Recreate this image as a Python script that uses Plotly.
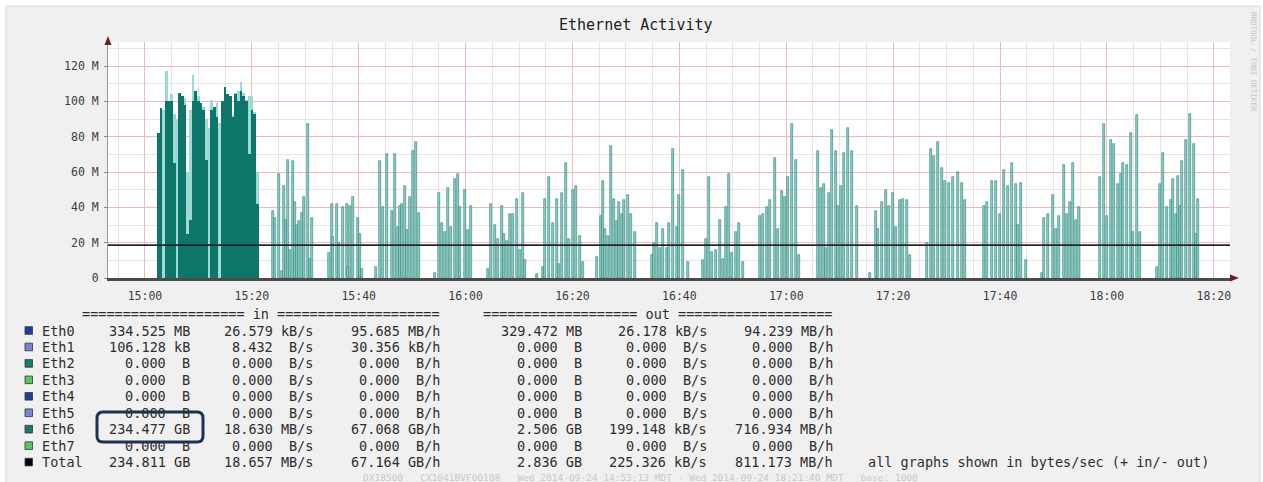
import datetime as dt
import plotly.graph_objects as go

# ------------------------------------------------------------------ data
# Eth6 "in" rate, MB/s.  Dense burst 15:02 - 15:21 (30 s samples), two layers
dense_minutes = [2.5, 3.0, 3.5, 4.0, 4.5, 5.0, 5.5, 6.0, 6.5, 7.0, 7.5, 8.0, 8.5,
                 9.0, 9.5, 10.0, 10.5, 11.0, 11.5, 12.0, 12.5, 13.0, 13.5, 14.0,
                 14.5, 15.0, 15.5, 16.0, 16.5, 17.0, 17.5, 18.0, 18.5, 19.0, 19.5,
                 20.0, 20.5, 21.0]
dense_dark = [82, 96, 0, 100, 100, 100, 65, 0, 105, 103, 98, 25, 33, 100, 106, 100,
              99, 95, 67, 0, 95, 97, 91, 0, 100, 108, 104, 103, 91, 104, 100, 106,
              103, 100, 70, 95, 93, 42]
dense_light = [82, 96, 95, 117, 100, 104, 93, 90, 105, 103, 102, 60, 95, 115, 106,
               103, 99, 97, 90, 85, 101, 97, 99, 88, 100, 108, 104, 103, 92, 105,
               106, 111, 105, 101, 103, 103, 94, 60]

# sparse spikes after 15:23 (minutes after 15:00, MB/s)
spike_minutes = [
    23.95, 24.33, 25.07, 25.64, 26.01, 26.38, 26.76, 27.13, 27.69, 28.07, 28.44, 28.82, 29.38, 29.75, 30.50, 30.88, 31.25,
    34.43, 34.99, 35.18, 35.93, 36.30, 37.05, 37.80, 37.99, 38.36, 38.92, 39.86, 40.23, 40.61,
    43.23, 44.00, 44.57, 45.28, 46.22, 46.78, 47.34, 47.72, 48.09, 48.65, 49.03, 49.59, 50.15, 50.71, 51.27,
    54.27, 55.01, 55.58, 56.14, 56.70, 57.26, 58.01, 58.57, 58.95, 59.88, 60.44, 61.00,
    64.18, 64.75, 65.49, 66.06, 66.80, 67.18, 67.74, 68.30, 68.86, 69.61, 70.17, 70.73, 71.11,
    73.35, 74.48, 74.85, 75.60, 76.35, 77.10, 77.47, 78.03, 78.78, 79.34, 80.09, 80.65, 81.40, 81.96,
    84.58, 85.33, 85.70, 86.08, 86.64, 87.20, 87.76, 88.32, 88.70, 89.26, 89.63, 90.38, 90.94, 91.69,
    94.87, 95.25, 95.81, 96.37, 96.93, 97.68, 98.05, 98.80, 99.55, 99.93, 100.67, 101.61,
    104.42, 104.98, 105.54, 106.10, 106.85, 107.60, 108.16, 108.72, 109.28, 109.84, 110.59, 111.15, 111.90,
    115.08, 115.64, 116.39, 116.95, 117.89, 118.45, 119.20, 119.76, 120.32, 121.07, 121.82, 122.38,
    125.94, 126.50, 127.06, 127.43, 127.99, 128.55, 129.30, 129.68, 130.24, 130.80, 131.55, 132.30, 133.23,
    135.67, 136.79, 137.16, 137.91, 138.66, 139.22, 139.97, 140.53, 141.28, 141.84, 142.59, 143.15,
    146.33, 147.08, 147.64, 148.39, 149.14, 149.70, 150.45, 151.20, 152.13, 152.88, 153.44,
    157.00, 157.56, 158.50, 159.24, 159.99, 160.74, 161.49, 162.24, 162.99, 163.36, 163.92, 164.86,
    167.85, 168.23, 168.97, 169.91, 170.47, 171.03, 171.97, 172.53, 173.09, 173.65, 174.21, 174.78,
    178.71, 179.45, 180.01, 180.76, 181.32, 182.07, 182.63, 183.01, 183.76, 184.51, 184.88, 185.63, 186.19,
    189.37, 189.93, 190.50, 191.24, 191.99, 192.37, 192.93, 193.30, 193.67, 194.05, 194.80, 195.55, 196.29, 196.67, 197.04,
]
spike_values = [
    38, 34, 59, 4, 52, 33, 67, 16, 66, 43, 30, 32, 37, 46, 87, 11, 34,
    14, 42, 23, 42, 20, 40, 42, 6, 41, 46, 34, 25, 5,
    6, 66, 40, 70, 38, 70, 29, 41, 42, 52, 27, 46, 72, 77, 37,
    3, 48, 31, 26, 51, 29, 56, 59, 40, 50, 27, 41,
    5, 42, 30, 22, 41, 25, 21, 36, 36, 45, 16, 48, 10,
    2, 6, 45, 57, 31, 45, 8, 48, 65, 22, 50, 52, 24, 9,
    12, 35, 55, 28, 24, 75, 45, 32, 43, 36, 44, 47, 36, 26,
    13, 20, 31, 17, 28, 17, 31, 73, 29, 47, 61, 9,
    10, 22, 57, 15, 16, 33, 11, 40, 59, 14, 26, 31, 9,
    35, 36, 40, 44, 68, 28, 49, 46, 57, 87, 67, 13,
    72, 51, 53, 17, 48, 84, 72, 41, 52, 71, 85, 72, 41,
    3, 38, 28, 43, 50, 41, 48, 29, 44, 45, 44, 13,
    20, 73, 69, 77, 62, 55, 54, 57, 60, 54, 44,
    41, 43, 55, 55, 36, 61, 52, 65, 53, 30, 54, 10,
    3, 34, 36, 47, 28, 35, 64, 36, 43, 65, 33, 40,
    57, 87, 35, 78, 76, 53, 59, 65, 64, 82, 26, 92, 26,
    6, 53, 71, 40, 44, 56, 36, 58, 41, 66, 78, 93, 76, 25, 45,
]
average_in_rate = 18.630          # MB/s (Eth6 in average)

graph_start = "2014-09-24 14:53:05"
graph_end = "2014-09-24 18:23:02"
x_tick_times = ["2014-09-24 15:00", "2014-09-24 15:20", "2014-09-24 15:40",
                "2014-09-24 16:00", "2014-09-24 16:20", "2014-09-24 16:40",
                "2014-09-24 17:00", "2014-09-24 17:20", "2014-09-24 17:40",
                "2014-09-24 18:00", "2014-09-24 18:20"]
x_tick_labels = ["15:00", "15:20", "15:40", "16:00", "16:20", "16:40", "17:00",
                 "17:20", "17:40", "18:00", "18:20"]
y_tick_values = [0, 20, 40, 60, 80, 100, 120]
y_tick_labels = ["0", "20 M", "40 M", "60 M", "80 M", "100 M", "120 M"]

# legend table
row_names = ["Eth0", "Eth1", "Eth2", "Eth3", "Eth4", "Eth5", "Eth6", "Eth7", "Total"]
row_colors = ["#1f3d9c", "#8080d8", "#1d7a68", "#58c858", "#1f3d9c", "#8080d8",
              "#1d7a68", "#58c858", "#000000"]
in_total_val = [334.525, 106.128, 0, 0, 0, 0, 234.477, 0, 234.811]
in_total_unit = ["MB", "kB", "B", "B", "B", "B", "GB", "B", "GB"]
in_rate_val = [26.579, 8.432, 0, 0, 0, 0, 18.630, 0, 18.657]
in_rate_unit = ["kB/s", "B/s", "B/s", "B/s", "B/s", "B/s", "MB/s", "B/s", "MB/s"]
in_hour_val = [95.685, 30.356, 0, 0, 0, 0, 67.068, 0, 67.164]
in_hour_unit = ["MB/h", "kB/h", "B/h", "B/h", "B/h", "B/h", "GB/h", "B/h", "GB/h"]
out_total_val = [329.472, 0, 0, 0, 0, 0, 2.506, 0, 2.836]
out_total_unit = ["MB", "B", "B", "B", "B", "B", "GB", "B", "GB"]
out_rate_val = [26.178, 0, 0, 0, 0, 0, 199.148, 0, 225.326]
out_rate_unit = ["kB/s", "B/s", "B/s", "B/s", "B/s", "B/s", "kB/s", "B/s", "kB/s"]
out_hour_val = [94.239, 0, 0, 0, 0, 0, 716.934, 0, 811.173]
out_hour_unit = ["MB/h", "B/h", "B/h", "B/h", "B/h", "B/h", "MB/h", "B/h", "MB/h"]

title_text = "Ethernet Activity"
note_text = "all graphs shown in bytes/sec (+ in/- out)"
footer_text = ("DX18500   CX1041BVF00108   Wed 2014-09-24 14:53:13 MDT - "
               "Wed 2014-09-24 18:21:40 MDT   base: 1000")
side_text = "RRDTOOL / TOBI OETIKER"

# ------------------------------------------------------------------ layout helpers
W_IMG, H_IMG = 1263, 482
L, R, T, B = 108, 33, 42, 204
PW = W_IMG - L - R
PH = H_IMG - T - B


def px(xp):
    return (xp - L) / PW


def py(yp):
    return (H_IMG - B - yp) / PH


base = dt.datetime(2014, 9, 24, 15, 0, 0)


def at(m):
    return base + dt.timedelta(minutes=m)


MONO = "DejaVu Sans Mono"
NB = "\u00a0"
TXT = "#2e2e2e"
TSIZE = 13.5

fig = go.Figure()
fig.add_trace(go.Bar(x=[at(m) for m in dense_minutes], y=dense_light, width=30000,
                     marker=dict(color="#9cdad3", line=dict(width=0)), hoverinfo="skip"))
fig.add_trace(go.Bar(x=[at(m) for m in dense_minutes], y=dense_dark, width=30000,
                     marker=dict(color="#0d756a", line=dict(width=0)), hoverinfo="skip"))
fig.add_trace(go.Bar(x=[at(m) for m in spike_minutes], y=spike_values, width=19000,
                     marker=dict(color="#8fd0c8", line=dict(color="#2a7f76", width=0.6)),
                     hoverinfo="skip"))
fig.add_trace(go.Scatter(x=[graph_start, graph_end], y=[average_in_rate, average_in_rate],
                         mode="lines", line=dict(color="#262626", width=1.6), hoverinfo="skip"))

major_grid = "#eebcbc"
minor_grid = "#e9e3e3"

fig.update_layout(
    width=W_IMG, height=H_IMG,
    margin=dict(l=L, r=R, t=T, b=B, autoexpand=False),
    paper_bgcolor="#f0f0f0", plot_bgcolor="#ffffff",
    barmode="overlay", bargap=0, showlegend=False,
    font=dict(family=MONO, size=12, color=TXT),
    xaxis=dict(type="date", range=[graph_start, graph_end],
               tickvals=x_tick_times, ticktext=x_tick_labels,
               showgrid=True, gridcolor=major_grid, gridwidth=1,
               minor=dict(dtick=300000, tick0="2014-09-24 15:00:00", showgrid=True,
                          gridcolor=minor_grid, gridwidth=1),
               showline=True, linecolor="#4a4a4a", linewidth=3, ticks="",
               ticklabelstandoff=5,
               tickfont=dict(family=MONO, size=11.5, color="#3c3c3c"),
               zeroline=False, fixedrange=True),
    yaxis=dict(range=[0, 133.6], tickvals=y_tick_values, ticktext=y_tick_labels,
               showgrid=True, gridcolor=major_grid, gridwidth=1,
               minor=dict(dtick=10, showgrid=True, gridcolor=minor_grid, gridwidth=1),
               showline=True, linecolor="#9a9a9a", linewidth=1,
               ticks="outside", ticklen=3, tickcolor="#888888", ticklabelstandoff=3,
               tickfont=dict(family=MONO, size=11.5, color="#3c3c3c"),
               zeroline=False, fixedrange=True),
)

shapes = []
ann = []

# outer frame
shapes.append(dict(type="rect", xref="paper", yref="paper", x0=px(0), x1=px(W_IMG),
                   y0=py(0), y1=py(6), fillcolor="#ffffff", line=dict(width=0), layer="below"))
shapes.append(dict(type="rect", xref="paper", yref="paper", x0=px(0), x1=px(6),
                   y0=py(0), y1=py(H_IMG), fillcolor="#ffffff", line=dict(width=0), layer="below"))
shapes.append(dict(type="rect", xref="paper", yref="paper", x0=px(1260), x1=px(W_IMG),
                   y0=py(0), y1=py(H_IMG), fillcolor="#ffffff", line=dict(width=0), layer="below"))
shapes.append(dict(type="rect", xref="paper", yref="paper", x0=px(6), x1=px(1260),
                   y0=py(6), y1=py(H_IMG + 2), line=dict(color="#d8d8d8", width=1), layer="below"))

# axis arrows
shapes.append(dict(type="path", xref="paper", yref="paper",
                   path=f"M {px(1230)},{py(274.5)} L {px(1239)},{py(278)} L {px(1230)},{py(281.5)} Z",
                   fillcolor="#6b1f1f", line=dict(width=0)))
shapes.append(dict(type="path", xref="paper", yref="paper",
                   path=f"M {px(104.5)},{py(45)} L {px(108)},{py(36)} L {px(111.5)},{py(45)} Z",
                   fillcolor="#6b1f1f", line=dict(width=0)))

# title + side text + footer
ann.append(dict(text=title_text, x=px(636), y=py(25), xref="paper", yref="paper",
                showarrow=False, font=dict(family=MONO, size=15, color="#222222"),
                xanchor="center", yanchor="middle"))
ann.append(dict(text=side_text.replace(" ", NB), x=px(1254), y=py(62), xref="paper", yref="paper",
                showarrow=False, textangle=90, font=dict(family=MONO, size=7.5, color="#c4c4c4"),
                xanchor="center", yanchor="middle"))
ann.append(dict(text=footer_text.replace(" ", NB), x=px(640), y=py(477), xref="paper", yref="paper",
                showarrow=False, font=dict(family=MONO, size=9.5, color="#c8c8c8"),
                xanchor="center", yanchor="middle"))

# legend table
row_y0, row_step = 330.5, 16.45
hdr_y = 314
ann.append(dict(text=("=" * 20 + " in " + "=" * 20).replace(" ", NB), x=px(441), y=py(hdr_y),
                xref="paper", yref="paper", showarrow=False, borderpad=0,
                font=dict(family=MONO, size=TSIZE, color=TXT),
                xanchor="right", yanchor="middle"))
ann.append(dict(text=("=" * 19 + " out " + "=" * 19).replace(" ", NB), x=px(834), y=py(hdr_y),
                xref="paper", yref="paper", showarrow=False, borderpad=0,
                font=dict(family=MONO, size=TSIZE, color=TXT),
                xanchor="right", yanchor="middle"))

columns = [
    (in_total_val, in_total_unit, 2, 191),
    (in_rate_val, in_rate_unit, 4, 314),
    (in_hour_val, in_hour_unit, 4, 441),
    (out_total_val, out_total_unit, 2, 583),
    (out_rate_val, out_rate_unit, 4, 708),
    (out_hour_val, out_hour_unit, 4, 834),
]

for i, name in enumerate(row_names):
    yc = row_y0 + i * row_step
    shapes.append(dict(type="rect", xref="paper", yref="paper",
                       x0=px(25), x1=px(32.5), y0=py(yc - 3.8), y1=py(yc + 3.8),
                       fillcolor=row_colors[i], line=dict(color="#333333", width=0.8)))
    ann.append(dict(text=name, x=px(40.5), y=py(yc), xref="paper", yref="paper",
                    showarrow=False, borderpad=0, font=dict(family=MONO, size=TSIZE, color=TXT),
                    xanchor="left", yanchor="middle"))
    for vals, units, uw, xr in columns:
        txt = f"{vals[i]:.3f} {units[i].rjust(uw)}".replace(" ", NB)
        ann.append(dict(text=txt, x=px(xr), y=py(yc), xref="paper", yref="paper",
                        showarrow=False, borderpad=0,
                        font=dict(family=MONO, size=TSIZE, color=TXT),
                        xanchor="right", yanchor="middle"))

ann.append(dict(text=note_text.replace(" ", NB), x=px(867), y=py(row_y0 + 8 * row_step),
                xref="paper", yref="paper", showarrow=False, borderpad=0,
                font=dict(family=MONO, size=TSIZE, color=TXT),
                xanchor="left", yanchor="middle"))

# highlight box around Eth6 in-total
bx0, bx1, by0, by1, r = 97, 203, 412, 442, 6
path = (f"M {px(bx0 + r)},{py(by0)} L {px(bx1 - r)},{py(by0)} Q {px(bx1)},{py(by0)} {px(bx1)},{py(by0 + r)} "
        f"L {px(bx1)},{py(by1 - r)} Q {px(bx1)},{py(by1)} {px(bx1 - r)},{py(by1)} "
        f"L {px(bx0 + r)},{py(by1)} Q {px(bx0)},{py(by1)} {px(bx0)},{py(by1 - r)} "
        f"L {px(bx0)},{py(by0 + r)} Q {px(bx0)},{py(by0)} {px(bx0 + r)},{py(by0)} Z")
shapes.append(dict(type="path", xref="paper", yref="paper", path=path,
                   line=dict(color="#1b3350", width=3), fillcolor="rgba(0,0,0,0)"))

fig.update_layout(shapes=shapes, annotations=ann)

fig.write_html("out.html", config={"displayModeBar": False},
               post_script="document.body.style.margin='0';document.body.style.overflow='hidden';")
